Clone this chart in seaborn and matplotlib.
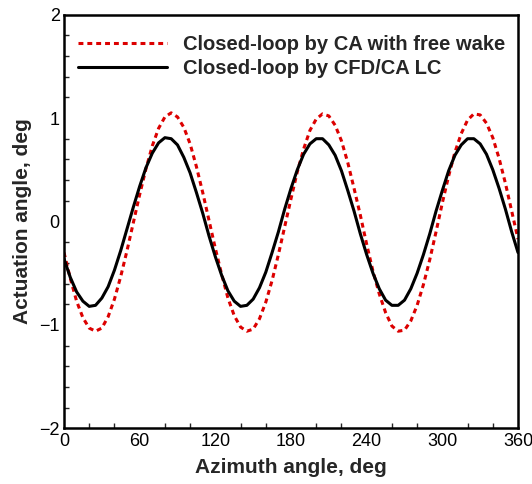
import matplotlib
matplotlib.use("Agg")
import matplotlib.pyplot as plt
import seaborn as sns
import pandas as pd
from matplotlib.ticker import MultipleLocator

azimuth = list(range(0, 361, 5))
ca_free_wake = [
    -0.30, -0.55, -0.77, -0.93, -1.03, -1.06, -1.03, -0.92, -0.75, -0.53,
    -0.28, -0.01, 0.26, 0.51, 0.73, 0.90, 1.01, 1.05, 1.01, 0.91,
    0.75, 0.53, 0.28, 0.01, -0.26, -0.51, -0.74, -0.91, -1.02, -1.06,
    -1.04, -0.94, -0.78, -0.57, -0.32, -0.05, 0.22, 0.48, 0.70, 0.88,
    0.99, 1.04, 1.02, 0.93, 0.78, 0.57, 0.32, 0.06, -0.22, -0.48,
    -0.70, -0.88, -1.01, -1.06, -1.05, -0.96, -0.81, -0.61, -0.37, -0.10,
    0.18, 0.44, 0.67, 0.85, 0.98, 1.04, 1.03, 0.95, 0.81, 0.61,
    0.37, 0.10, -0.17,
]
cfd_ca_lc = [
    -0.36, -0.54, -0.68, -0.77, -0.82, -0.81, -0.74, -0.63, -0.47, -0.28,
    -0.07, 0.14, 0.34, 0.52, 0.66, 0.76, 0.81, 0.80, 0.74, 0.62,
    0.47, 0.28, 0.08, -0.14, -0.34, -0.52, -0.67, -0.77, -0.82, -0.81,
    -0.75, -0.64, -0.49, -0.30, -0.10, 0.12, 0.32, 0.50, 0.65, 0.75,
    0.80, 0.80, 0.74, 0.64, 0.49, 0.30, 0.10, -0.12, -0.32, -0.50,
    -0.65, -0.76, -0.81, -0.81, -0.76, -0.65, -0.50, -0.32, -0.12, 0.10,
    0.30, 0.49, 0.64, 0.74, 0.80, 0.80, 0.75, 0.65, 0.50, 0.32,
    0.12, -0.10, -0.30,
]
label_ca = "Closed-loop by CA with free wake"
label_lc = "Closed-loop by CFD/CA LC"
x_ticks = [0, 60, 120, 180, 240, 300, 360]
y_ticks = [-2, -1, 0, 1, 2]

df = pd.DataFrame({
    "Azimuth": azimuth * 2,
    "Angle": ca_free_wake + cfd_ca_lc,
    "Series": [label_ca] * len(azimuth) + [label_lc] * len(azimuth),
})

sns.set_style("white")
plt.rcParams["font.family"] = ["Liberation Sans", "DejaVu Sans"]

fig = plt.figure(figsize=(5.32, 4.84), dpi=100)
ax = fig.add_axes([0.1203, 0.1147, 0.8534, 0.8553])

sns.lineplot(data=df, x="Azimuth", y="Angle", hue="Series", style="Series",
             palette={label_ca: "#dc0000", label_lc: "black"},
             dashes={label_ca: (1.6, 1.3), label_lc: ""},
             linewidth=2.2, ax=ax, sort=False)

ax.set_xlim(0, 360)
ax.set_ylim(-2, 2)
ax.set_xticks(x_ticks)
ax.set_yticks(y_ticks)
ax.xaxis.set_minor_locator(MultipleLocator(20))
ax.yaxis.set_minor_locator(MultipleLocator(0.2))
ax.tick_params(which="major", direction="in", length=7.5, width=1.5,
               labelsize=13, top=False, right=False, pad=3, colors="black")
ax.tick_params(which="minor", direction="in", length=3.8, width=1.0,
               top=False, right=False, left=True, bottom=True)
for s in ax.spines.values():
    s.set_linewidth(1.8)
    s.set_color("black")

ax.set_xlabel("Azimuth angle, deg", fontsize=15, fontweight="bold", labelpad=6)
ax.set_ylabel("Actuation angle, deg", fontsize=15, fontweight="bold", labelpad=5)

leg = ax.legend(loc="upper left", frameon=False, fontsize=14.5,
                handlelength=4.4, handletextpad=0.8, labelspacing=0.25,
                borderaxespad=0.3, bbox_to_anchor=(0.0, 0.985))
for t in leg.get_texts():
    t.set_fontweight("bold")
for h in leg.get_lines():
    h.set_linewidth(2.2)

fig.savefig("out.png", dpi=100)
